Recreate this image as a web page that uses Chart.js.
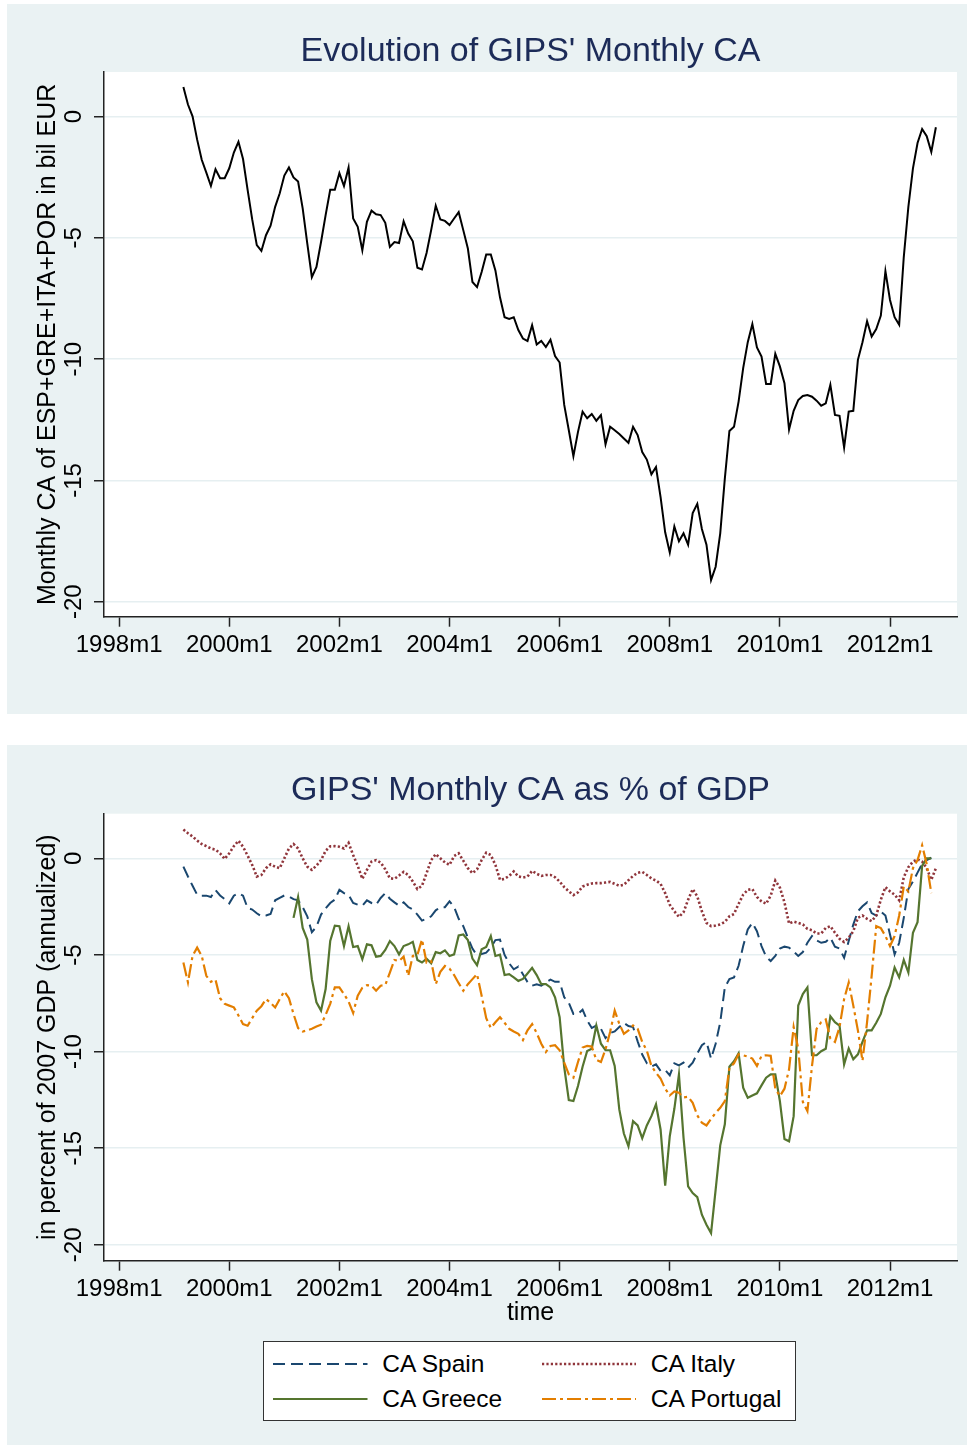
<!DOCTYPE html>
<html>
<head>
<meta charset="utf-8">
<script src="https://cdn.jsdelivr.net/npm/chart.js@4.4.1/dist/chart.umd.min.js"></script>
<style>
  html, body { margin: 0; padding: 0; background: #fff; }
  body { width: 971px; height: 1447px; position: relative; overflow: hidden; font-family: "Liberation Sans", Arial, sans-serif; }
  .panel { position: absolute; left: 7px; width: 960px; background: #eaf2f3; }
  #topPanel { top: 4px; height: 710px; }
  #bottomPanel { top: 745px; height: 700px; }
  #legend { position: absolute; left: 256px; top: 596px; width: 533px; height: 80px; box-sizing: border-box;
            background: #fff; border: 1px solid #333; }
  .item-line { position: absolute; }
  .item-text { position: absolute; font-size: 24.5px; line-height: 30px; height: 30px; color: #000; white-space: nowrap; }
</style>
</head>
<body>
<div class="panel" id="topPanel"><canvas id="top" width="960" height="710"></canvas></div>
<div class="panel" id="bottomPanel">
  <canvas id="bottom" width="960" height="700"></canvas>
  <div id="legend"></div>
</div>
<script>
// months counted from 1998m1 = 0; series run 1999m3 .. 2012m11
const xTickMonths = [0, 24, 48, 72, 96, 120, 144, 168];
const xTickLabels = ['1998m1', '2000m1', '2002m1', '2004m1', '2006m1', '2008m1', '2010m1', '2012m1'];
const yTicks = [0, -5, -10, -15, -20];
const firstMonth = 14;

// monthly CA of ESP+GRE+ITA+POR, bil EUR
const gips = [
  1.22, 0.50, 0.01, -0.95, -1.78, -2.31, -2.86, -2.17, -2.54, -2.54, -2.13, -1.48,
  -1.04, -1.75, -3.02, -4.24, -5.30, -5.54, -4.89, -4.50, -3.72, -3.16, -2.43, -2.10,
  -2.51, -2.68, -3.78, -5.23, -6.62, -6.20, -5.17, -4.06, -3.02, -3.02, -2.33, -2.86,
  -2.10, -4.20, -4.54, -5.51, -4.34, -3.88, -4.03, -4.06, -4.38, -5.37, -5.17, -5.21,
  -4.32, -4.82, -5.14, -6.23, -6.30, -5.62, -4.68, -3.67, -4.24, -4.30, -4.47, -4.20,
  -3.94, -4.68, -5.44, -6.82, -7.03, -6.41, -5.68, -5.68, -6.34, -7.45, -8.27, -8.34,
  -8.27, -8.80, -9.15, -9.25, -8.60, -9.40, -9.25, -9.50, -9.20, -9.87, -10.14, -11.89,
  -12.93, -14.00, -13.00, -12.17, -12.44, -12.26, -12.54, -12.31, -13.51, -12.79, -12.93, -13.09,
  -13.27, -13.45, -12.79, -13.13, -13.83, -14.14, -14.75, -14.45, -15.69, -17.14, -17.97, -16.90,
  -17.51, -17.18, -17.65, -16.35, -15.97, -17.00, -17.65, -19.11, -18.56, -17.18, -14.93, -12.96,
  -12.79, -11.75, -10.37, -9.30, -8.55, -9.52, -9.89, -11.02, -11.02, -9.78, -10.30, -10.99,
  -12.90, -12.13, -11.69, -11.52, -11.48, -11.55, -11.71, -11.92, -11.82, -11.06, -12.30, -12.34,
  -13.65, -12.16, -12.13, -10.03, -9.30, -8.44, -9.07, -8.76, -8.20, -6.37, -7.56, -8.27,
  -8.58, -5.79, -3.72, -2.13, -1.09, -0.51, -0.81, -1.46, -0.44
];

// CA as % of 2007 GDP (annualized)
const spain = [
  -0.43, -0.94, -1.42, -1.88, -1.93, -1.93, -2.00, -1.64, -1.92, -2.11, -2.33, -1.93,
  -1.80, -1.93, -2.57, -2.65, -2.84, -3.00, -2.96, -2.88, -2.17, -2.04, -1.92, -1.97,
  -2.11, -2.17, -2.52, -3.00, -3.82, -3.54, -2.91, -2.59, -2.31, -2.14, -1.63, -1.80,
  -1.88, -2.31, -2.40, -2.45, -2.17, -2.31, -2.40, -2.05, -1.80, -2.09, -2.28, -2.45,
  -2.28, -2.52, -2.65, -2.91, -3.22, -3.13, -3.00, -2.69, -2.53, -2.53, -2.23, -2.52,
  -3.13, -3.51, -4.11, -4.67, -5.02, -4.95, -4.88, -4.62, -4.23, -4.20, -5.00, -5.43,
  -5.74, -5.60, -6.00, -6.40, -6.59, -6.52, -6.59, -6.42, -6.28, -6.39, -6.39, -7.19,
  -7.48, -8.05, -8.05, -7.83, -8.39, -8.78, -8.65, -8.82, -9.30, -9.04, -8.96, -8.73,
  -8.51, -8.68, -8.73, -9.47, -10.15, -10.60, -10.77, -10.66, -11.00, -10.95, -11.23, -10.61,
  -10.71, -10.57, -10.83, -10.57, -10.09, -9.67, -9.50, -10.36, -9.59, -8.48, -6.68, -6.25,
  -6.16, -5.56, -4.54, -3.68, -3.34, -3.77, -4.54, -5.09, -5.31, -5.05, -4.67, -4.57,
  -4.62, -4.83, -5.05, -4.85, -4.37, -4.02, -4.25, -4.37, -4.32, -4.11, -4.57, -4.67,
  -5.14, -4.28, -3.42, -2.74, -2.48, -2.28, -2.83, -2.96, -2.76, -2.96, -3.94, -4.97,
  -4.37, -3.08, -1.59, -1.20, -0.74, -0.29, -0.09, 0.03, null
];
const italy = [
  1.49, 1.30, 1.13, 0.92, 0.74, 0.63, 0.51, 0.45, 0.26, -0.03, 0.26, 0.63,
  0.91, 0.60, 0.14, -0.34, -0.94, -0.86, -0.51, -0.31, -0.43, -0.51, 0.00, 0.51,
  0.74, 0.51, 0.00, -0.43, -0.60, -0.38, -0.09, 0.39, 0.62, 0.63, 0.60, 0.51,
  0.80, 0.17, -0.39, -1.06, -0.60, -0.17, -0.09, -0.22, -0.57, -1.03, -1.06, -0.89,
  -0.70, -0.86, -1.20, -1.59, -1.42, -0.77, -0.09, 0.22, 0.00, -0.21, -0.34, 0.12,
  0.26, -0.12, -0.51, -0.77, -0.57, -0.09, 0.29, 0.17, -0.34, -1.11, -1.06, -0.91,
  -0.68, -0.94, -0.99, -0.94, -0.65, -0.80, -0.91, -0.86, -0.86, -0.98, -1.20, -1.49,
  -1.71, -1.90, -1.76, -1.46, -1.37, -1.30, -1.28, -1.28, -1.25, -1.22, -1.32, -1.42,
  -1.37, -1.13, -0.91, -0.75, -0.70, -0.86, -1.04, -1.15, -1.32, -1.80, -2.40, -2.74,
  -3.03, -2.79, -2.14, -1.59, -1.97, -2.74, -3.34, -3.51, -3.48, -3.42, -3.29, -3.00,
  -2.88, -2.36, -1.88, -1.63, -1.59, -2.00, -2.23, -2.35, -1.93, -1.15, -1.51, -2.28,
  -3.37, -3.27, -3.34, -3.42, -3.65, -3.72, -3.89, -3.89, -3.60, -3.51, -3.85, -4.16,
  -4.33, -4.11, -3.77, -3.08, -2.96, -3.13, -3.25, -2.96, -2.14, -1.49, -1.71, -1.88,
  -2.17, -0.98, -0.46, -0.17, -0.05, -0.17, -0.51, -1.11, -0.51
];
const greece = [
  null, null, null, null, null, null, null, null, null, null, null, null,
  null, null, null, null, null, null, null, null, null, null, null, null,
  -3.08, -2.00, -3.60, -4.20, -6.25, -7.45, -7.88, -6.76, -4.28, -3.48, -3.51, -4.54,
  -3.51, -4.59, -4.54, -5.22, -4.45, -4.50, -5.09, -5.05, -4.74, -4.28, -4.54, -4.97,
  -4.54, -4.45, -4.32, -5.26, -5.39, -5.19, -5.43, -4.85, -4.91, -4.76, -5.05, -4.97,
  -3.99, -3.94, -4.23, -5.19, -5.53, -4.71, -4.59, -4.02, -5.05, -4.98, -6.04, -5.99,
  -6.16, -6.34, -6.24, -5.96, -5.67, -6.04, -6.51, -6.51, -6.68, -7.19, -8.22, -10.80,
  -12.51, -12.56, -11.78, -10.78, -9.97, -9.85, -8.65, -9.59, -9.93, -9.93, -10.74, -12.99,
  -14.24, -14.90, -13.60, -13.82, -14.48, -13.82, -13.34, -12.73, -14.03, -16.94, -14.38, -12.96,
  -11.18, -14.46, -16.97, -17.32, -17.53, -18.44, -18.96, -19.39, -17.14, -14.85, -13.76, -10.78,
  -10.50, -10.09, -11.87, -12.39, -12.27, -12.16, -11.75, -11.35, -11.18, -11.18, -12.56, -14.52,
  -14.64, -13.34, -7.62, -7.02, -6.68, -10.19, -10.19, -9.98, -9.85, -8.17, -8.48, -8.65,
  -10.66, -9.84, -10.40, -10.14, -9.50, -8.90, -8.90, -8.51, -8.05, -7.19, -6.59, -5.65,
  -6.16, -5.26, -5.91, -3.85, -3.30, -0.39, 0.00, 0.00, null
];
const portugal = [
  -5.39, -6.42, -5.05, -4.62, -5.05, -6.08, -6.39, -6.28, -7.24, -7.53, -7.62, -7.71,
  -8.13, -8.58, -8.66, -8.27, -7.88, -7.65, -7.28, -7.48, -7.72, -7.28, -6.88, -7.24,
  -8.05, -8.78, -8.96, -8.90, -8.82, -8.70, -8.61, -8.10, -7.53, -6.68, -6.68, -7.02,
  -7.41, -8.00, -7.11, -6.70, -6.56, -6.59, -6.85, -6.59, -6.56, -5.91, -5.26, -5.31,
  -5.09, -6.08, -5.05, -5.00, -4.20, -5.39, -5.31, -6.51, -5.87, -5.57, -5.70, -6.04,
  -6.46, -6.85, -6.51, -6.25, -5.99, -7.11, -8.27, -8.78, -8.48, -8.22, -8.51, -8.82,
  -8.96, -9.08, -9.40, -8.90, -8.58, -9.04, -9.59, -10.02, -9.71, -9.67, -9.93, -10.57,
  -11.18, -11.35, -10.54, -9.79, -9.71, -9.74, -10.43, -10.54, -9.88, -8.99, -7.88, -8.56,
  -9.08, -8.90, -8.65, -8.82, -9.50, -9.95, -10.74, -11.09, -11.40, -11.92, -12.27, -12.06,
  -12.13, -12.37, -12.34, -12.65, -13.30, -13.68, -13.82, -13.48, -13.17, -12.91, -12.56, -10.83,
  -10.61, -10.14, -10.19, -10.26, -10.36, -10.74, -10.22, -10.19, -10.22, -11.92, -12.30, -11.92,
  -10.92, -8.73, -9.85, -12.60, -13.08, -10.74, -8.82, -8.48, -8.34, -9.33, -9.50, -8.73,
  -7.28, -6.42, -7.62, -8.90, -10.48, -8.48, -6.08, -3.51, -3.61, -4.02, -4.54, -4.02,
  -2.96, -1.46, -1.71, -0.51, -0.09, 0.68, -0.30, -1.80, null
];

const months = gips.map((_, i) => firstMonth + i);

const FONT = '"Liberation Sans", Arial, sans-serif';
const AXIS = '#222';
const GRID = '#e6eff1';

// white plot region, like Stata's plotregion
const plotBg = {
  id: 'plotBg',
  beforeDraw(chart) {
    const { ctx, chartArea: a } = chart;
    ctx.save();
    ctx.fillStyle = '#fff';
    ctx.fillRect(a.left, a.top, a.right - a.left, a.bottom - a.top);
    ctx.restore();
  }
};

function xAxis(height, title) {
  return {
    type: 'linear',
    min: -3.3,
    max: 182.6,
    afterBuildTicks: s => { s.ticks = xTickMonths.map(v => ({ value: v })); },
    afterFit: s => { s.height = height; },
    ticks: {
      callback: (v, i) => xTickLabels[i],
      font: { family: FONT, size: 24 },
      color: '#000',
      padding: 4,
      maxRotation: 0,
      autoSkip: false
    },
    grid: { drawOnChartArea: false, tickLength: 10, tickColor: AXIS, tickWidth: 1.5 },
    border: { color: AXIS, width: 1.5 },
    title: title ? {
      display: true, text: title, color: '#000',
      font: { family: FONT, size: 25 }, padding: { top: 0, bottom: 0 }
    } : { display: false }
  };
}

function yAxis(min, max, title) {
  return {
    min: min,
    max: max,
    afterBuildTicks: s => { s.ticks = yTicks.map(v => ({ value: v })); },
    afterFit: s => { s.width = 97; },
    ticks: {
      font: { family: FONT, size: 24 },
      color: '#000',
      padding: 2,
      minRotation: 90,
      maxRotation: 90,
      crossAlign: 'center'
    },
    grid: { color: GRID, lineWidth: 1.5, tickLength: 10, tickColor: AXIS, tickWidth: 1.5 },
    border: { color: AXIS, width: 1.5 },
    title: {
      display: true, text: title, color: '#000',
      font: { family: FONT, size: 25 }, padding: { top: 26.5, bottom: 0 }
    }
  };
}

function titleOpts(text, padTop, padBottom) {
  return {
    display: true,
    text: text,
    fullSize: false,
    color: '#1c2b58',
    font: { family: FONT, size: 34, weight: 'normal' },
    padding: { top: padTop, bottom: padBottom }
  };
}

new Chart(document.getElementById('top'), {
  type: 'line',
  data: {
    labels: months,
    datasets: [{
      label: 'Monthly CA',
      data: gips,
      borderColor: '#000',
      borderWidth: 2,
      pointRadius: 0,
      tension: 0
    }]
  },
  options: {
    responsive: false,
    animation: false,
    layout: { padding: { left: 0, right: 10, top: 0, bottom: 0 } },
    scales: {
      x: xAxis(97.3),
      y: yAxis(-20.62, 1.84, 'Monthly CA of ESP+GRE+ITA+POR in bil EUR')
    },
    plugins: {
      title: titleOpts("Evolution of GIPS' Monthly CA", 27, 0.2),
      legend: { display: false },
      tooltip: { enabled: false }
    }
  },
  plugins: [plotBg]
});

const bottomChart = new Chart(document.getElementById('bottom'), {
  type: 'line',
  data: {
    labels: months,
    datasets: [
      { label: 'CA Spain', data: spain, borderColor: '#1a476f', borderDash: [12, 6], borderWidth: 2, order: 4 },
      { label: 'CA Italy', data: italy, borderColor: '#90353b', borderDash: [2.2, 2.2], borderWidth: 2.6, order: 3 },
      { label: 'CA Greece', data: greece, borderColor: '#55752f', borderDash: [], borderWidth: 2.2, order: 2 },
      { label: 'CA Portugal', data: portugal, borderColor: '#e37e00', borderDash: [14, 4, 3, 4], borderWidth: 2.2, order: 1 }
    ].map(d => Object.assign(d, { pointRadius: 0, tension: 0, spanGaps: false }))
  },
  options: {
    responsive: false,
    animation: false,
    layout: { padding: { left: 0, right: 10, top: 0, bottom: 116.7 } },
    scales: {
      x: xAxis(67.6, 'time'),
      y: yAxis(-20.82, 2.31, 'in percent of 2007 GDP (annualized)')
    },
    plugins: {
      title: titleOpts("GIPS' Monthly CA as % of GDP", 25.5, 2.4),
      legend: { display: false },
      tooltip: { enabled: false }
    }
  },
  plugins: [plotBg]
});

// legend box built from the chart's own legend items, 2 columns filled row by row like Stata
(function buildLegend(chart) {
  const box = document.getElementById('legend');
  const items = Chart.defaults.plugins.legend.labels.generateLabels(chart)
    .sort((a, b) => a.datasetIndex - b.datasetIndex);
  const colLeft = [9.3, 277.8];
  const rowMid = [22.3, 57.3];
  const lineLen = 94.5;
  const textGap = 108.9;
  items.forEach((it, i) => {
    const c = i % 2, r = Math.floor(i / 2);
    const ds = chart.data.datasets[it.datasetIndex];
    const svg = document.createElementNS('http://www.w3.org/2000/svg', 'svg');
    svg.setAttribute('class', 'item-line');
    svg.setAttribute('width', lineLen);
    svg.setAttribute('height', 6);
    svg.style.left = colLeft[c] + 'px';
    svg.style.top = (rowMid[r] - 3) + 'px';
    const ln = document.createElementNS('http://www.w3.org/2000/svg', 'line');
    ln.setAttribute('x1', 0); ln.setAttribute('y1', 3);
    ln.setAttribute('x2', lineLen); ln.setAttribute('y2', 3);
    ln.setAttribute('stroke', ds.borderColor);
    ln.setAttribute('stroke-width', ds.borderWidth);
    if (ds.borderDash.length) ln.setAttribute('stroke-dasharray', ds.borderDash.join(' '));
    svg.appendChild(ln);
    box.appendChild(svg);
    const t = document.createElement('div');
    t.className = 'item-text';
    t.textContent = it.text;
    t.style.left = (colLeft[c] + textGap) + 'px';
    t.style.top = (rowMid[r] - 15.5) + 'px';
    box.appendChild(t);
  });
})(bottomChart);
</script>
</body>
</html>
